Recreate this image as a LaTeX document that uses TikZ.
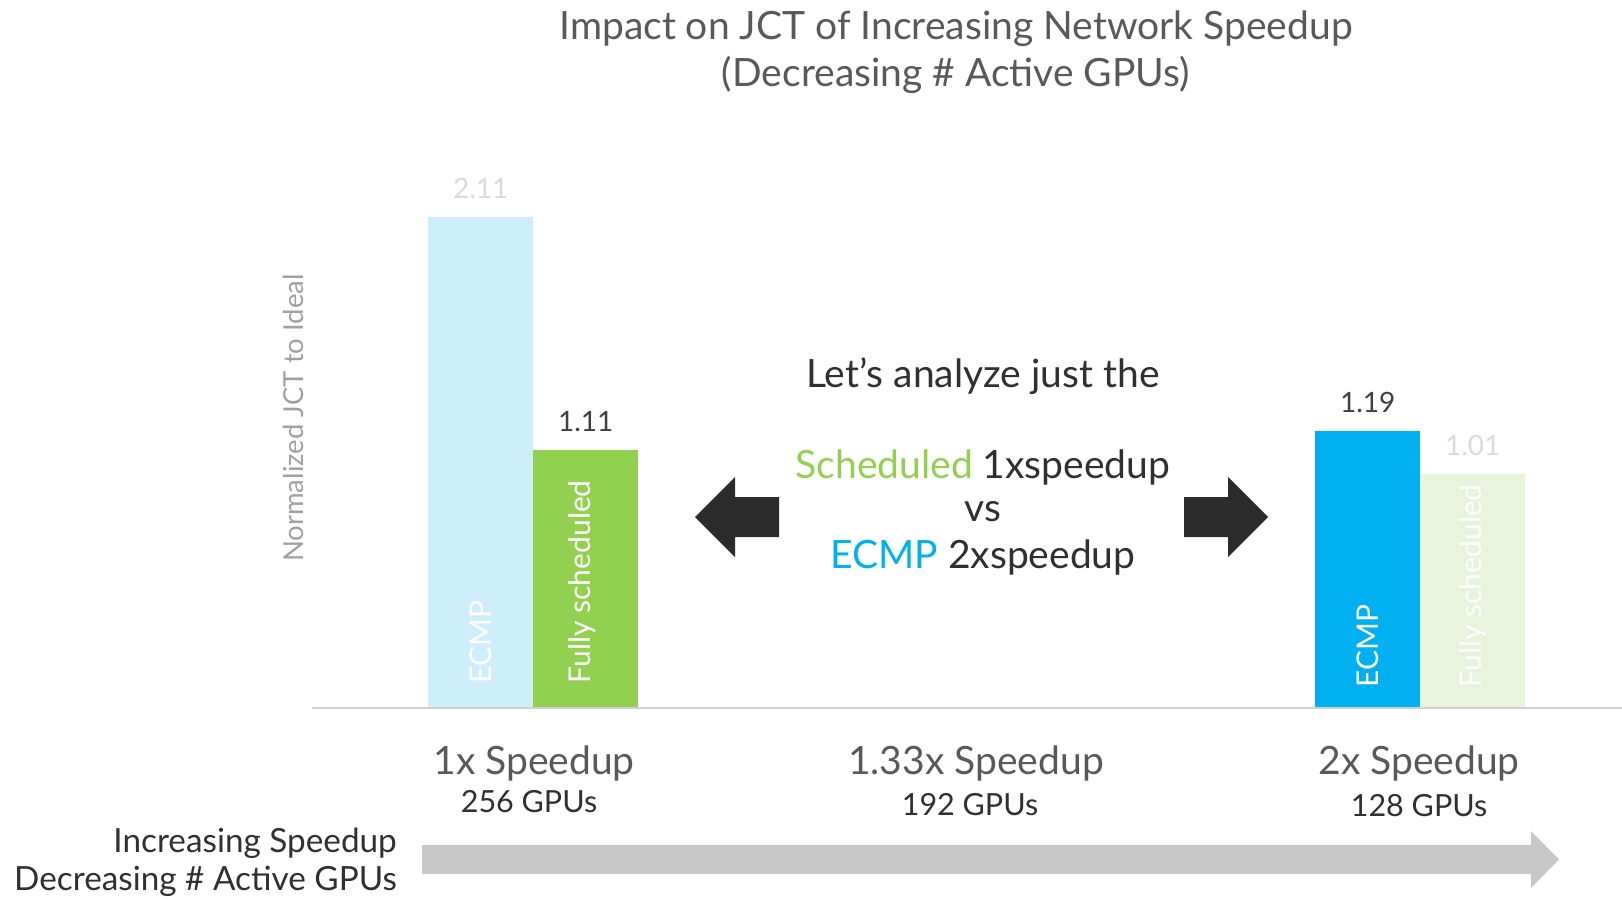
\documentclass[tikz,border=0pt]{standalone}
\usepackage{fontspec}
\setmainfont{Lato}
\definecolor{ecmplight}{HTML}{CDEEFA}
\definecolor{schedgreen}{HTML}{92D050}
\definecolor{ecmpblue}{HTML}{00B0F0}
\definecolor{schedlight}{HTML}{E8F4DC}
\definecolor{titlegray}{HTML}{595959}
\definecolor{axisgray}{HTML}{D0D0D0}
\definecolor{bandgray}{HTML}{C8C8C8}
\definecolor{arrowdark}{HTML}{2B2B2B}
\definecolor{textdark}{HTML}{303030}
\definecolor{valdark}{HTML}{404040}
\definecolor{valfaint}{HTML}{DADADA}
\definecolor{ylabgray}{HTML}{A0A0A0}
\tikzset{
  fs/.style={font=\fontsize{#1}{#1}\selectfont},
  bar/.style={draw=none, inner sep=0pt, anchor=south west, minimum width=105pt},
  vallabel/.style={fs=28, anchor=base, inner sep=0pt},
  inbar/.style={fs=30, rotate=90, anchor=west, inner sep=0pt, text=white},
  catlabel/.style={fs=39, text=titlegray, inner sep=0pt},
  gpulabel/.style={fs=30.5, text=textdark, inner sep=0pt},
  midtext/.style={fs=39, text=textdark, inner sep=0pt},
  sidetext/.style={fs=33.3, text=textdark, anchor=east, inner sep=0pt},
  blockarrow/.style={fill=arrowdark, draw=none},
}
\begin{document}
\begin{tikzpicture}[x=1pt, y=-1pt]
\useasboundingbox (0,0) rectangle (1622,898);

% title
\node[fs=39, text=titlegray, inner sep=0pt] (title1) at (956,29) {Impact on JCT of Increasing Network Speedup};
\node[fs=39, text=titlegray, inner sep=0pt] (title2) at (956,75) {(Decreasing \# Active GPUs)};

% y axis label
\node[fs=27.5, text=ylabgray, rotate=90, inner sep=0pt] (ylab) at (293,418) {Normalized JCT to Ideal};

% bars
\node[bar, fill=ecmplight, minimum height=490.5pt] (b1) at (428,707.5) {};
\node[bar, fill=schedgreen, minimum height=257.5pt] (b2) at (533,707.5) {};
\node[bar, fill=ecmpblue, minimum height=276.5pt] (b3) at (1315,707.5) {};
\node[bar, fill=schedlight, minimum height=233.5pt] (b4) at (1420,707.5) {};

% values above bars
\node[vallabel, text=valfaint] (v1) at ([yshift=18pt]b1.north) {2.11};
\node[vallabel, text=valdark] (v2) at ([yshift=18pt]b2.north) {1.11};
\node[vallabel, text=valdark] (v3) at ([yshift=18pt]b3.north) {1.19};
\node[vallabel, text=valfaint] (v4) at ([yshift=18pt]b4.north) {1.01};

% series names inside bars
\node[inbar] (n1) at ([yshift=24pt]b1.south) {ECMP};
\node[inbar] (n2) at ([xshift=-4pt, yshift=24pt]b2.south) {Fully scheduled};
\node[inbar] (n3) at ([yshift=20pt]b3.south) {ECMP};
\node[inbar] (n4) at ([yshift=20pt]b4.south) {Fully scheduled};

% axis line
\coordinate (axL) at (312,708);
\coordinate (axR) at (1622,708);
\draw[axisgray, line width=2pt] (axL) -- (axR);

% categories
\node[catlabel] (c1) at (534,763) {1x Speedup};
\node[gpulabel] (g1) at (529,802) {256 GPUs};
\node[catlabel] (c2) at (976,763) {1.33x Speedup};
\node[gpulabel] (g2) at (970,805) {192 GPUs};
\node[catlabel] (c3) at (1419,763) {2x Speedup};
\node[gpulabel] (g3) at (1419,806) {128 GPUs};

% middle comparison text
\node[midtext] (m1) at (983,376) {Let’s analyze just the};
\node[midtext] (m2) at (983,467) {{\color{schedgreen}Scheduled} 1xspeedup};
\node[midtext] (m3) at (983,512) {vs};
\node[midtext] (m4) at (983,557) {{\color{ecmpblue}ECMP} 2xspeedup};

% block arrows pointing to the compared bars
\fill[blockarrow] (695,517) -- (735,477) -- (735,497) -- (779,497) -- (779,537) -- (735,537) -- (735,557) -- cycle;
\fill[blockarrow] (1268,517) -- (1228,477) -- (1228,497) -- (1184,497) -- (1184,537) -- (1228,537) -- (1228,557) -- cycle;

% bottom trend band
\node[sidetext] (t1) at (397,843) {Increasing Speedup};
\node[sidetext] (t2) at (397,881) {Decreasing \# Active GPUs};
\fill[bandgray] (422,845) -- (1531,845) -- (1531,831) -- (1559,859.5) -- (1531,888) -- (1531,874) -- (422,874) -- cycle;
\end{tikzpicture}
\end{document}
